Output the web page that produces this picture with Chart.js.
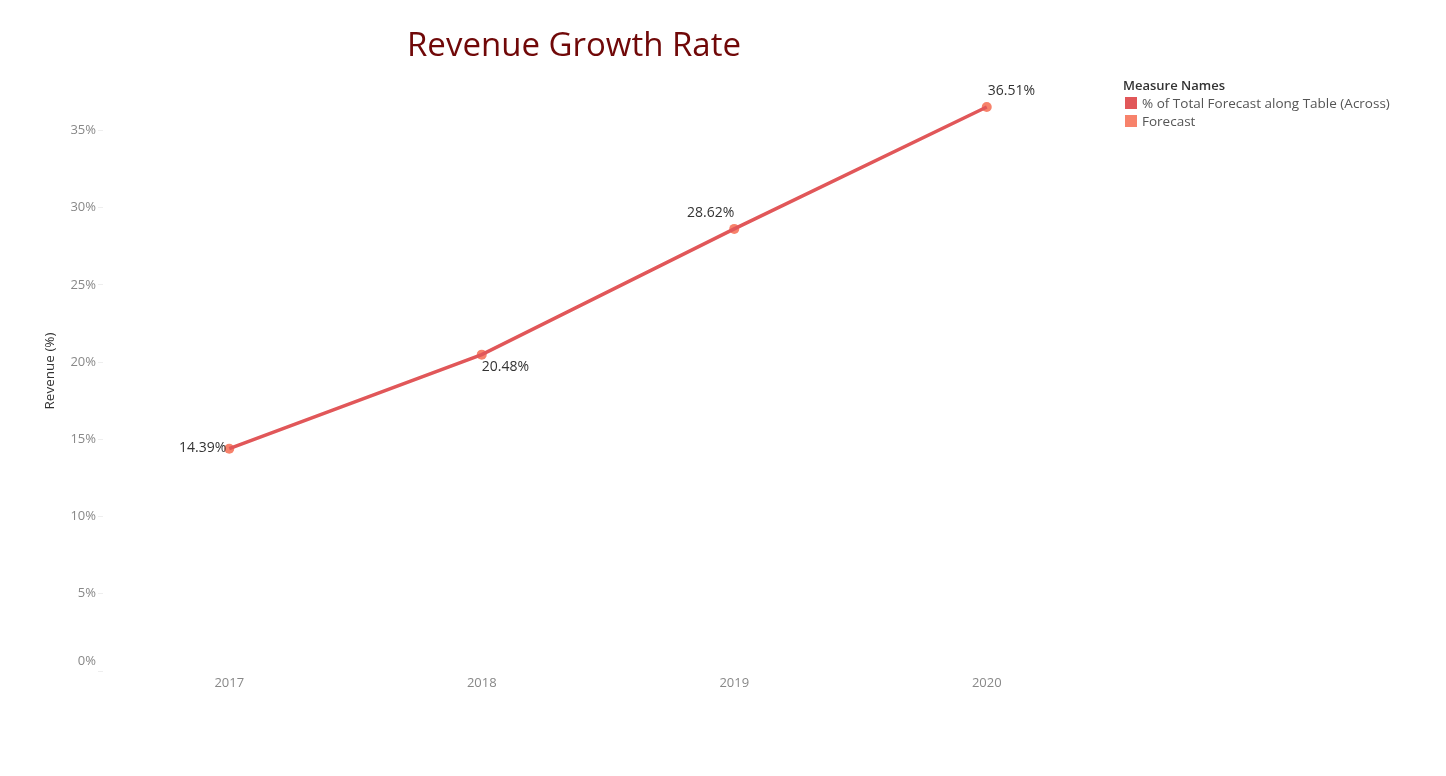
<!DOCTYPE html>
<html>
<head>
<meta charset="utf-8">
<script src="https://cdn.jsdelivr.net/npm/chart.js@4.4.0/dist/chart.umd.min.js"></script>
<style>
  html, body { margin:0; padding:0; background:#fff; }
  #wrap { position:relative; width:1446px; height:776px; }
  #title { position:absolute; left:407px; top:21px; font-family:"Open Sans", sans-serif; font-size:33px; color:#700808; white-space:nowrap; }
  #legend { position:absolute; left:1123px; top:77px; font-family:"Open Sans", sans-serif; font-size:13.5px; color:#555; }
  #legend .hd { font-weight:600; font-size:13px; color:#333; height:17px; line-height:17px; }
  #legend .it { display:flex; align-items:center; height:18px; }
  #legend .sw { width:12px; height:12px; margin-left:2px; margin-right:5px; }
  canvas { position:absolute; left:0; top:0; }
</style>
</head>
<body>
<div id="wrap">
  <canvas id="c" width="1446" height="776"></canvas>
  <div id="title">Revenue Growth Rate</div>
  <div id="legend">
    <div class="hd">Measure Names</div>
    <div class="it"><span class="sw" style="background:#e15759"></span>% of Total Forecast along Table (Across)</div>
    <div class="it"><span class="sw" style="background:#f7826b"></span>Forecast</div>
  </div>
</div>
<script>
const years = ["2017", "2018", "2019", "2020"];
const pctOfTotal = [14.39, 20.48, 28.62, 36.51];
const forecast = [14.39, 20.48, 28.62, 36.51];
const yTicks = [0, 5, 10, 15, 20, 25, 30, 35];

// label placement: [dx, dy, align]
const labelPos = [
  [-3, -1, "right"],
  [0, 12, "left"],
  [0, -16, "right"],
  [1, -16, "left"]
];

const labelPlugin = {
  id: "labels",
  afterDatasetsDraw(chart) {
    const ctx = chart.ctx;
    const meta = chart.getDatasetMeta(1);
    ctx.save();
    ctx.font = "14px 'Open Sans', sans-serif";
    ctx.fillStyle = "#333";
    ctx.textBaseline = "middle";
    meta.data.forEach((pt, i) => {
      const p = labelPos[i];
      ctx.textAlign = p[2];
      ctx.fillText(forecast[i].toFixed(2) + "%", pt.x + p[0], pt.y + p[1]);
    });
    ctx.restore();
    // zero tick label, nudged up inside the view like the reference
    const ys = chart.scales.y;
    ctx.save();
    ctx.font = "13px 'Open Sans', sans-serif";
    ctx.fillStyle = "#888";
    ctx.textAlign = "right";
    ctx.textBaseline = "middle";
    ctx.fillText("0%", ys.right - 7, ys.getPixelForValue(0) - 10);
    ctx.restore();
    // y axis title
    ctx.save();
    ctx.font = "13.5px 'Open Sans', sans-serif";
    ctx.fillStyle = "#333";
    ctx.textAlign = "center";
    ctx.textBaseline = "middle";
    ctx.translate(50, 371);
    ctx.rotate(-Math.PI / 2);
    ctx.fillText("Revenue (%)", 0, 0);
    ctx.restore();
  }
};

new Chart(document.getElementById("c"), {
  type: "line",
  data: {
    labels: years,
    datasets: [
      {
        label: "% of Total Forecast along Table (Across)",
        data: pctOfTotal,
        borderColor: "#e15759",
        borderWidth: 3.5,
        pointRadius: 0,
        tension: 0,
        fill: false
      },
      {
        label: "Forecast",
        data: forecast,
        showLine: false,
        pointRadius: 5,
        pointBackgroundColor: "#f7826b",
        pointBorderColor: "#f7826b",
        pointBorderWidth: 0
      }
    ]
  },
  options: {
    responsive: false,
    animation: false,
    layout: { padding: { left: 0, top: 84, right: 333, bottom: 0 } },
    plugins: { legend: { display: false }, tooltip: { enabled: false }, title: { display: false } },
    scales: {
      x: {
        offset: true,
        grid: { display: false, drawTicks: false },
        border: { display: false },
        ticks: { color: "#888", font: { family: "'Open Sans', sans-serif", size: 13 }, padding: 4 },
        afterFit(s) { s.height = 105; }
      },
      y: {
        min: 0,
        max: 38,
        afterBuildTicks(s) { s.ticks = yTicks.map(v => ({ value: v })); },
        grid: { display: true, drawOnChartArea: false, drawTicks: true, tickLength: 5, color: "#eee" },
        border: { display: false },
        ticks: { color: "#888", font: { family: "'Open Sans', sans-serif", size: 13 }, padding: 2, callback: v => v === 0 ? "" : v + "%" },
        afterFit(s) { s.width = 103; }
      }
    }
  },
  plugins: [labelPlugin]
});
</script>
</body>
</html>
